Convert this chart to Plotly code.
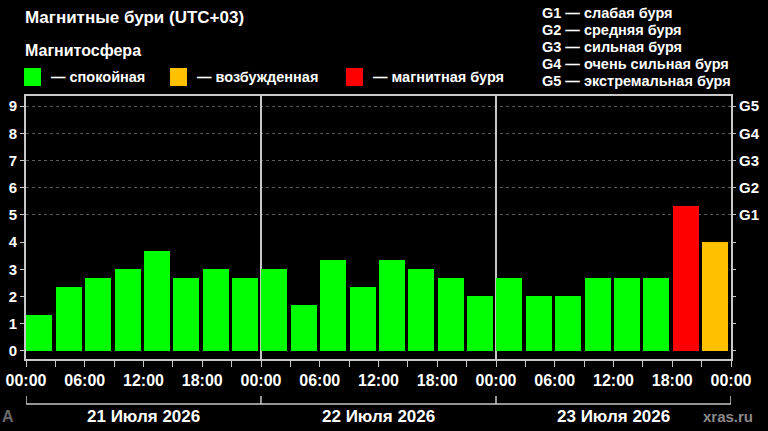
import plotly.graph_objects as go

# Kp index by 3-hour slot, 21-23 July 2026 (UTC+03)
kp_values = [
    1.33, 2.33, 2.67, 3.0, 3.67, 2.67, 3.0, 2.67,
    3.0, 1.67, 3.33, 2.33, 3.33, 3.0, 2.67, 2.0,
    2.67, 2.0, 2.0, 2.67, 2.67, 2.67, 5.33, 4.0,
]
kp_state = ["calm"] * 22 + ["storm", "excited"]
slot_hours = list(range(0, 72, 3))
hour_ticks = list(range(0, 73, 6))
hour_labels = ["00:00", "06:00", "12:00", "18:00"] * 3 + ["00:00"]
day_labels = ["21 Июля 2026", "22 Июля 2026", "23 Июля 2026"]
g_levels = [5, 6, 7, 8, 9]
g_labels = ["G1", "G2", "G3", "G4", "G5"]
g_descr = ["слабая буря", "средняя буря", "сильная буря", "очень сильная буря", "экстремальная буря"]
state_names = {"calm": "— спокойная", "excited": "— возбужденная", "storm": "— магнитная буря"}
state_colors = {"calm": "#00ff00", "excited": "#ffc000", "storm": "#ff0000"}

W, H = 768, 431
M = {"l": 26, "r": 37, "t": 96, "b": 72}
FONT = "Liberation Sans"
FRAME = "#c8c8c8"


def px_x(p):
    return (p - M["l"]) / (W - M["l"] - M["r"])


def px_y(p):
    return (H - M["b"] - p) / (H - M["t"] - M["b"])


fig = go.Figure()
fig.add_trace(go.Bar(
    x=slot_hours, y=kp_values,
    marker=dict(color=[state_colors[s] for s in kp_state], line_width=0),
    width=2.65, offset=0.05, showlegend=False,
))
# helper traces so the overlay axes get drawn
fig.add_trace(go.Scatter(x=[0], y=[0], xaxis="x2", yaxis="y2", mode="none", showlegend=False, hoverinfo="skip"))
fig.add_trace(go.Scatter(x=[0], y=[0], xaxis="x", yaxis="y3", mode="none", showlegend=False, hoverinfo="skip"))

tick_font = dict(family=FONT, size=15, color="white", weight="bold")
fig.update_layout(
    width=W, height=H, margin=M,
    paper_bgcolor="black", plot_bgcolor="black",
    font=dict(family=FONT, color="white"),
    xaxis=dict(
        range=[0, 72], tickvals=hour_ticks, ticktext=hour_labels, automargin=False,
        tickfont=dict(family=FONT, size=16, color="white", weight="bold"),
        showgrid=False, zeroline=False, showline=True, mirror=True,
        linecolor=FRAME, linewidth=2, ticks="outside", ticklen=6,
        tickcolor=FRAME, minor=dict(tickvals=slot_hours, ticks="outside", ticklen=6, tickcolor=FRAME),
    ),
    xaxis2=dict(
        overlaying="x", range=[0, 72], tickvals=[24, 48], showticklabels=False, automargin=False,
        showgrid=True, gridcolor=FRAME, gridwidth=1.5, zeroline=False, ticks="",
    ),
    yaxis=dict(
        range=[-0.3, 9.37], tickvals=list(range(10)), tickfont=tick_font, automargin=False,
        showgrid=False, zeroline=False, showline=True, mirror=True,
        linecolor=FRAME, linewidth=2, ticks="outside", ticklen=4, tickcolor=FRAME,
    ),
    yaxis2=dict(
        overlaying="y", side="right", range=[-0.3, 9.37], tickvals=list(range(10)),
        ticktext=[""] * 5 + g_labels, tickfont=tick_font, automargin=False,
        showgrid=False, zeroline=False, ticks="outside", ticklen=4, tickcolor=FRAME,
    ),
    yaxis3=dict(
        overlaying="y", range=[-0.3, 9.37], tickvals=g_levels, showticklabels=False, automargin=False,
        showgrid=True, gridcolor="#5a5a5a", griddash="dot", gridwidth=1, zeroline=False,
    ),
    bargap=0,
)

ann = []
ann.append(dict(text="<b>Магнитные бури (UTC+03)</b>", x=px_x(23), y=px_y(17),
                font=dict(size=17), xanchor="left"))
ann.append(dict(text="<b>Магнитосфера</b>", x=px_x(23), y=px_y(50),
                font=dict(size=16), xanchor="left"))
shapes = []
legend_x = {"calm": 24, "excited": 170, "storm": 346}
for s in ["calm", "excited", "storm"]:
    x0 = legend_x[s]
    shapes.append(dict(type="rect", xref="paper", yref="paper",
                       x0=px_x(x0), x1=px_x(x0 + 17), y0=px_y(86), y1=px_y(68),
                       fillcolor=state_colors[s], line_width=0))
    ann.append(dict(text="<b>" + state_names[s] + "</b>", x=px_x(x0 + 25), y=px_y(77),
                    font=dict(size=14.5), xanchor="left"))
for i, (g, d) in enumerate(zip(g_labels, g_descr)):
    ann.append(dict(text=f"<b>{g} — {d}</b>", x=px_x(540), y=px_y(13 + 17 * i),
                    font=dict(size=14.5), xanchor="left"))

# day bracket under the hour labels
shapes.append(dict(type="line", xref="x", yref="paper", x0=0, x1=72,
                   y0=px_y(404), y1=px_y(404), line=dict(color=FRAME, width=1.5)))
for d in range(4):
    shapes.append(dict(type="line", xref="x", yref="paper", x0=24 * d, x1=24 * d,
                       y0=px_y(396), y1=px_y(404), line=dict(color=FRAME, width=1.5)))
for d, lab in enumerate(day_labels):
    ann.append(dict(text="<b>" + lab + "</b>", xref="x", x=24 * d + 12, y=px_y(416),
                    font=dict(size=17), xanchor="center"))
ann.append(dict(text="<b>A</b>", x=px_x(0), y=px_y(416), font=dict(size=16, color="#6a6a6a"), xanchor="left"))
ann.append(dict(text="<b>xras.ru</b>", x=px_x(728), y=px_y(416), font=dict(size=15, color="#8a8a8a"),
                xanchor="center"))

for a in ann:
    a.setdefault("xref", "paper")
    a["yref"] = "paper"
    a["showarrow"] = False
    a["yanchor"] = "middle"
    a["font"].setdefault("color", "white")
    a["font"].setdefault("family", FONT)
fig.update_layout(annotations=ann, shapes=shapes)

# drop the browser's default body margin so the figure sits at the page corner
fig.write_html("out.html", config={"displayModeBar": False},
               post_script="document.body.style.margin = '0';")
